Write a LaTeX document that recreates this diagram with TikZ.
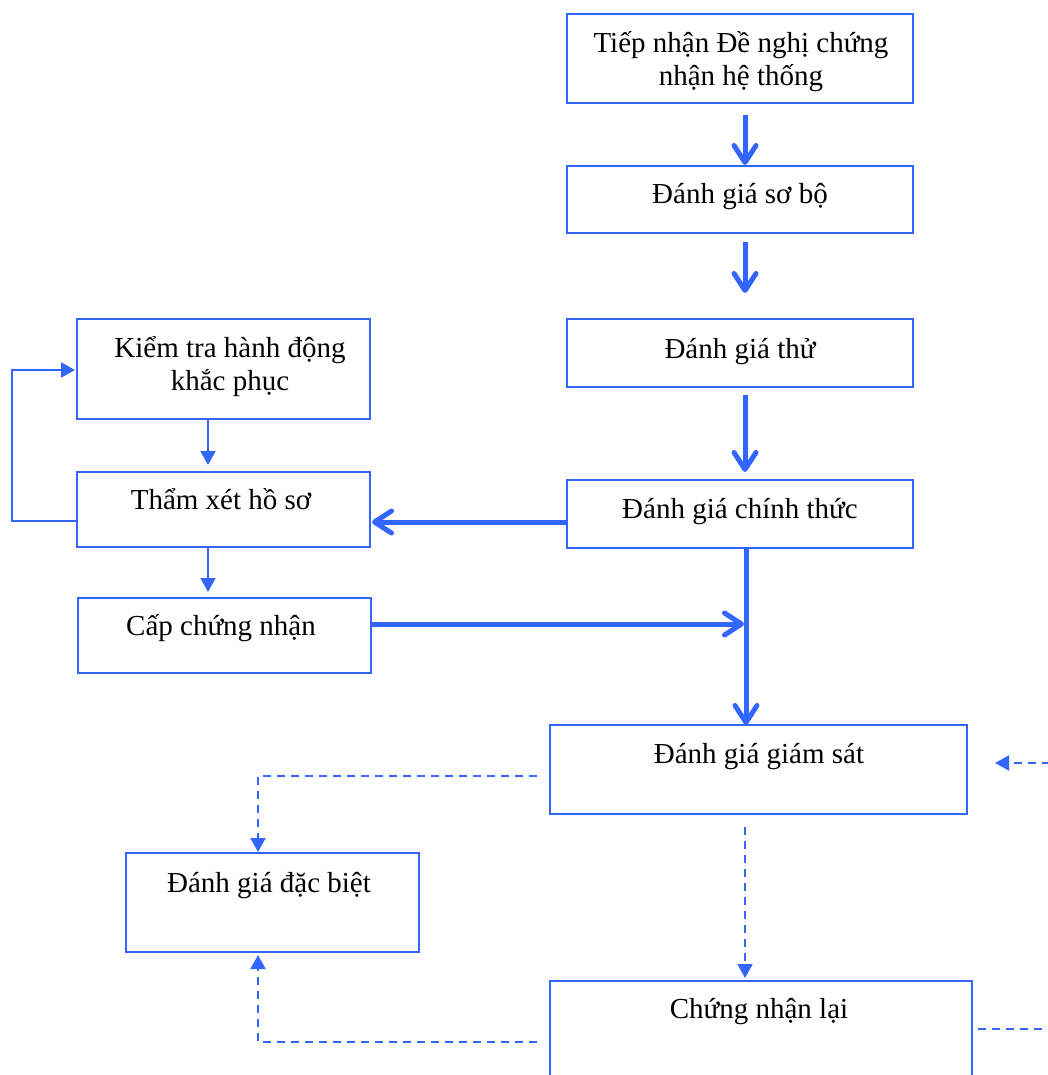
\documentclass[tikz,border=0pt]{standalone}
\usepackage{fontspec}
\setmainfont{Liberation Serif}
\usetikzlibrary{arrows.meta,calc}
\definecolor{myblue}{RGB}{51,102,255}
\tikzset{
  box/.style={draw=myblue, line width=2pt, inner sep=0pt, outer sep=0pt, fill=white},
  txt/.style={inner sep=0pt, outer sep=0pt, align=center, anchor=base, font=\fontsize{29}{33}\selectfont},
  thk/.style={draw=myblue, line width=5pt, -{Straight Barb[length=17pt,width=22pt,line width=5pt,round]}},
  thn/.style={draw=myblue, line width=2pt, -{Triangle[length=14pt,width=15pt]}},
  dsh/.style={draw=myblue, line width=2pt, dash pattern=on 8pt off 6pt},
  dsharrow/.style={dsh, -{Triangle[length=14pt,width=15pt]}}
}
\begin{document}
\begin{tikzpicture}[x=1pt,y=-1pt]
\clip (0,0) rectangle (1048,1075);
\fill[white] (0,0) rectangle (1048,1075);
% boxes
\node[box, minimum width=346pt, minimum height=89pt] (b1) at (740,58.5) {};
\node[box, minimum width=346pt, minimum height=67pt] (b2) at (740,199.5) {};
\node[box, minimum width=346pt, minimum height=68pt] (b3) at (740,353) {};
\node[box, minimum width=346pt, minimum height=68pt] (b4) at (740,514) {};
\node[box, minimum width=293pt, minimum height=100pt] (k) at (223.5,369) {};
\node[box, minimum width=293pt, minimum height=75pt] (t) at (223.5,509.5) {};
\node[box, minimum width=293pt, minimum height=75pt] (c) at (224.5,635.5) {};
\node[box, minimum width=417pt, minimum height=89pt] (gs) at (758.5,769.5) {};
\node[box, minimum width=293pt, minimum height=99pt] (db) at (272.5,902.5) {};
\node[box, minimum width=422pt, minimum height=119pt] (cl) at (761,1040.5) {};
% texts
\node[txt] (b1t) at (741,86) {Tiếp nhận Đề nghị chứng\\nhận hệ thống};
\node[txt] (b2t) at (740,204) {Đánh giá sơ bộ};
\node[txt] (b3t) at (740,358) {Đánh giá thử};
\node[txt] (b4t) at (740,518) {Đánh giá chính thức};
\node[txt] (kt) at (230,390) {Kiểm tra hành động\\khắc phục};
\node[txt] (tt) at (221,509) {Thẩm xét hồ sơ};
\node[txt] (ct) at (221,635) {Cấp chứng nhận};
\node[txt] (gst) at (759,763) {Đánh giá giám sát};
\node[txt] (dbt) at (269,892) {Đánh giá đặc biệt};
\node[txt] (clt) at (759,1018) {Chứng nhận lại};
% thick arrows
\draw[thk] ($(b1.south)+(5,12)$) -- ($(b2.north)+(5,-1)$);
\draw[thk] ($(b2.south)+(5,9)$) -- ($(b3.north)+(5,-26)$);
\draw[thk] ($(b3.south)+(5,8)$) -- ($(b4.north)+(5,-8)$);
\draw[thk] ($(b4.west)+(-1,8)$) -- ($(t.east)+(2,12.5)$);
\draw[thk] ($(b4.south)+(6,0)$) -- ($(gs.north)+(-12.5,0)$);
\coordinate (j) at (744,624);
\draw[thk] (c.east|-j) -- (j);
% thin arrows
\draw[thn] ($(k.south)+(-15.5,0)$) -- ($(t.north)+(-15.5,-7)$);
\draw[thn] ($(t.south)+(-15.5,0)$) -- ($(c.north)+(-16.5,-6)$);
\draw[thn] ($(t.west)+(0,11.5)$) -- ++(-65,0) |- ($(k.west)+(-2,1)$);
% dashed arrows
\draw[dsharrow] ($(gs.west)+(-13,6.5)$) -| ($(db.north)+(-14.5,-1)$);
\draw[dsharrow] ($(gs.south)+(-13.5,13)$) -- ($(cl.north)+(-16,-3)$);
\draw[dsharrow] ($(cl.west)+(-13,1.5)$) -| ($(db.south)+(-14.5,3)$);
\coordinate (rin) at (1050,763);
\draw[dsharrow] (rin) -- ($(gs.east)+(28,-6.5)$);
\coordinate (rout) at (1050,1029);
\draw[dsh] ($(cl.east)+(6,-11.5)$) -- (rout);
\end{tikzpicture}
\end{document}
